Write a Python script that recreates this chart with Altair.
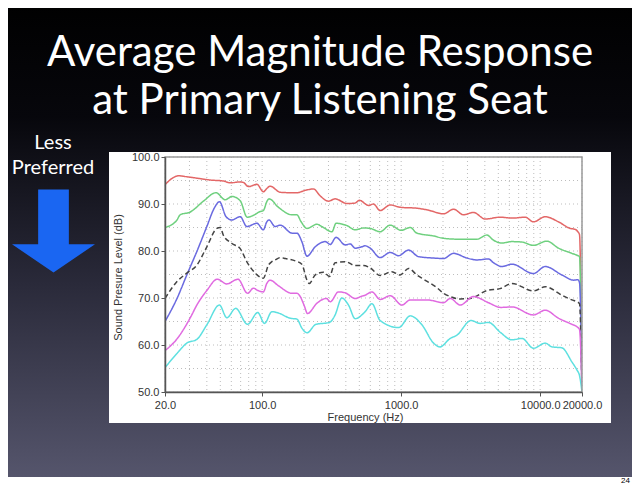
import altair as alt
import pandas as pd

# ---------------- data ----------------
red_f = [20, 22.9, 25, 28.7, 33.9, 42.3, 52.5, 58.9, 69.5, 73.1, 79.8, 91.7, 102, 108, 114, 135, 160, 178, 204, 234,
         262, 300, 335, 407, 467, 500, 582, 632, 706, 834, 984, 1298, 1566, 2018, 2383, 2807, 3313, 4027, 5163, 6265,
         7801, 8954, 10868, 13550, 16452, 17872, 18670, 19190, 20000]
red_db = [94.1, 95.6, 96.0, 95.8, 95.5, 95.1, 94.9, 94.5, 94.7, 94.6, 93.7, 94.2, 92.6, 93.3, 93.8, 92.5, 92.4, 92.4, 92.9, 93.2,
          91.7, 90.6, 91.1, 90.1, 90.2, 90.8, 89.7, 90.0, 88.6, 89.8, 89.3, 89.1, 88.7, 87.9, 88.9, 87.7, 88.2, 86.8, 87.2, 87.0,
          87.2, 86.2, 87.3, 86.2, 84.8, 84.6, 84.1, 83.5, 50.0]

green_f = [20, 24.4, 25.7, 30.4, 37.8, 46.5, 54.2, 60.6, 69.5, 78, 86.7, 96.8, 102, 108, 112, 131, 164, 178, 190, 210,
           248, 269, 318, 340, 407, 467, 536, 599, 706, 834, 1000, 1162, 1298, 1711, 2018, 2661, 3507, 4140, 4616, 5309,
           6265, 7396, 8954, 11172, 13550, 16915, 18375, 19190, 20000]
green_db = [85.0, 86.6, 87.7, 88.3, 90.6, 92.4, 90.9, 91.6, 90.7, 87.2, 87.6, 88.4, 88.6, 90.5, 91.1, 89.3, 87.7, 87.7, 86.3, 84.8,
            85.7, 85.2, 84.1, 85.9, 85.4, 84.5, 84.9, 84.8, 84.1, 85.5, 84.4, 85.0, 83.8, 83.2, 82.7, 82.5, 82.5, 83.4, 82.3, 81.7,
            82.0, 81.9, 81.2, 82.1, 80.6, 79.5, 79.1, 78.8, 50.0]

blue_f = [20, 24.4, 28.7, 33.9, 40, 45.2, 49.3, 55, 60.6, 69.5, 77.6, 91.7, 102, 108, 112, 124, 135, 164, 178, 193,
          210, 241, 284, 309, 340, 396, 430, 467, 522, 551, 599, 706, 834, 957, 1130, 1334, 1711, 2018, 2383, 2970,
          3507, 4247, 4616, 5309, 6265, 8954, 10868, 14330, 17383, 18670, 19190, 20000]
blue_db = [65.0, 69.9, 74.9, 79.9, 85.2, 89.1, 90.5, 87.3, 86.6, 87.3, 85.2, 85.9, 84.5, 86.2, 86.6, 85.2, 85.5, 83.8, 83.8, 82.0,
           78.9, 80.9, 82.0, 81.4, 82.9, 81.3, 81.5, 80.6, 80.9, 81.1, 80.6, 78.6, 79.7, 79.0, 80.2, 78.8, 78.5, 78.4, 79.5, 78.5,
           78.1, 78.3, 77.5, 76.7, 77.2, 75.2, 76.7, 74.9, 73.8, 73.9, 73.3, 50.0]

black_f = [20, 24.4, 28.7, 33.9, 40, 47.2, 50, 52.5, 60.6, 69.5, 78, 89.1, 102, 111, 117, 124, 135, 147, 173, 193,
           210, 218, 241, 276, 305, 335, 400, 467, 536, 599, 706, 857, 984, 1130, 1298, 1449, 1711, 1808, 2018, 2255,
           2661, 3139, 3412, 4140, 5163, 6265, 8954, 10868, 14330, 16915, 18375, 19190, 20000]
black_db = [69.9, 73.5, 75.3, 77.0, 80.9, 84.8, 85.0, 83.4, 81.6, 80.5, 77.6, 75.3, 74.2, 77.0, 77.7, 78.1, 78.6, 78.4, 77.9, 77.2,
            73.8, 73.1, 74.9, 75.5, 74.6, 77.5, 77.7, 76.9, 76.9, 76.4, 74.8, 75.6, 74.9, 76.3, 74.9, 74.0, 72.7, 72.2, 71.0, 70.3,
            69.8, 69.9, 70.3, 71.6, 72.0, 73.1, 71.5, 72.4, 70.6, 69.6, 69.2, 68.8, 50.0]

magenta_f = [20, 24.4, 30.4, 33.9, 40, 47.5, 55.7, 67, 78.5, 86.7, 91.7, 102, 108, 114, 131, 164, 178, 188, 200, 212,
             248, 290, 309, 354, 396, 467, 522, 551, 616, 706, 834, 1014, 1162, 1532, 2018, 2255, 2661, 3313, 4247, 5200,
             6265, 8954, 10868, 13550, 16915, 18375, 19190, 20000]
magenta_db = [58.8, 61.3, 65.8, 68.5, 71.6, 74.0, 73.0, 74.0, 71.0, 72.1, 71.7, 71.3, 73.1, 73.8, 72.6, 71.0, 71.0, 70.3, 68.5, 66.7,
              68.9, 69.9, 69.2, 71.3, 71.1, 69.9, 70.4, 70.6, 71.3, 69.7, 70.5, 68.5, 69.6, 69.6, 69.0, 69.9, 68.5, 70.3, 69.0, 68.0,
              68.1, 66.4, 67.4, 65.7, 64.4, 63.9, 63.3, 50.0]

cyan_f = [20, 24.4, 28.7, 33.9, 40, 49.3, 55.7, 64.5, 78.5, 93, 104, 117.5, 131, 159, 178, 193, 210, 244, 305, 335,
          374, 418, 467, 551, 616, 706, 960, 1162, 1410, 1711, 1900, 2255, 2519, 3180, 3707, 4247, 5163, 6265, 7396, 8954,
          10868, 12144, 14330, 16915, 18375, 19190, 20000]
cyan_db = [55.2, 58.2, 60.4, 61.2, 64.3, 68.5, 65.8, 67.8, 64.4, 66.9, 64.6, 67.1, 66.8, 65.7, 65.5, 63.6, 62.6, 64.4, 64.8, 66.4,
           70.0, 68.5, 65.6, 67.1, 68.8, 65.2, 63.7, 66.2, 64.3, 60.4, 59.6, 61.4, 62.1, 65.2, 64.6, 64.8, 62.7, 61.1, 61.4, 59.3,
           60.4, 59.6, 59.4, 56.4, 54.7, 53.5, 50.0]

series_names = ["red", "green", "blue", "black", "magenta", "cyan"]
series_colors = ["#e36767", "#6fd07f", "#6a6ae0", "#444444", "#e06ae0", "#5ee0e0"]
series_dash = [[1, 0], [1, 0], [1, 0], [5, 3], [1, 0], [1, 0]]

x_label_values = [20, 100, 1000, 10000, 20000]
x_grid_values = [20, 30, 40, 50, 60, 70, 80, 90, 100, 200, 300, 400, 500, 600, 700, 800, 900,
                 1000, 2000, 3000, 4000, 5000, 6000, 7000, 8000, 9000, 10000, 20000]
y_label_values = [50, 60, 70, 80, 90, 100]
y_grid_values = [50, 55, 60, 65, 70, 75, 80, 85, 90, 95, 100]

title_lines = ["Average Magnitude Response", "at Primary Listening Seat"]
side_lines = ["Less", "Preferred"]
page_number = "24"

# ---------------- build table ----------------
all_f = [red_f, green_f, blue_f, black_f, magenta_f, cyan_f]
all_db = [red_db, green_db, blue_db, black_db, magenta_db, cyan_db]
rows = []
for name, fs, ds in zip(series_names, all_f, all_db):
    assert len(fs) == len(ds), name
    for i, (f, d) in enumerate(zip(fs, ds)):
        rows.append({"series": name, "freq": f, "spl": d, "order": i})
df = pd.DataFrame(rows)

W, H = 417, 235
FONT = "Liberation Sans"

xscale = alt.Scale(type="log", domain=[20, 20000], nice=False)
yscale = alt.Scale(domain=[50, 100], nice=False)
one = pd.DataFrame({"k": [0]})

x_axis = alt.Axis(values=x_label_values, format=".1f", title="Frequency (Hz)",
                  grid=False, zindex=1, labelFlush=False, labelOverlap=False,
                  tickSize=4, labelPadding=3, titleX=200, titleY=25,
                  titleBaseline="middle")
y_axis = alt.Axis(values=y_label_values, format=".1f", title="Sound Presure Level (dB)",
                  grid=False, zindex=1, tickSize=4, labelPadding=2,
                  titleX=-47, titleY=120, titleBaseline="middle", titleAngle=-90)

# slide background
bg = alt.Chart(one).mark_rect(
    fill=alt.LinearGradient(
        gradient="linear", x1=0, x2=0, y1=0, y2=1,
        stops=[alt.GradientStop(color="#000000", offset=0),
               alt.GradientStop(color="#07070c", offset=0.25),
               alt.GradientStop(color="#2a2a3a", offset=0.6),
               alt.GradientStop(color="#55556c", offset=1)]),
).encode(x=alt.value(-170), x2=alt.value(480), y=alt.value(-160), y2=alt.value(320))

panel = alt.Chart(one).mark_rect(fill="#ffffff").encode(
    x=alt.value(-56), x2=alt.value(446), y=alt.value(-5), y2=alt.value(266))

vgrid = alt.Chart(pd.DataFrame({"freq": x_grid_values})).mark_rule(
    color="#bdbdbd", strokeDash=[1, 3], strokeWidth=1).encode(
    x=alt.X("freq:Q", scale=xscale, axis=x_axis))
hgrid = alt.Chart(pd.DataFrame({"spl": y_grid_values})).mark_rule(
    color="#bdbdbd", strokeDash=[1, 3], strokeWidth=1).encode(
    y=alt.Y("spl:Q", scale=yscale, axis=y_axis))

frame = alt.Chart(one).mark_rect(filled=False, stroke="#9a9a9a", strokeWidth=1.5).encode(
    x=alt.value(0), x2=alt.value(W), y=alt.value(0), y2=alt.value(H))

lines = alt.Chart(df).mark_line(strokeWidth=1.5, clip=True, interpolate="monotone").encode(
    x=alt.X("freq:Q", scale=xscale, axis=x_axis),
    y=alt.Y("spl:Q", scale=yscale, axis=y_axis),
    color=alt.Color("series:N", scale=alt.Scale(domain=series_names, range=series_colors), legend=None),
    strokeDash=alt.StrokeDash("series:N", scale=alt.Scale(domain=series_names, range=series_dash), legend=None),
    order="order:Q",
)

title1 = alt.Chart(one).mark_text(text=title_lines[0], font="Lato", fontSize=42, color="#ffffff",
                                  align="center", baseline="alphabetic").encode(
    x=alt.value(155), y=alt.value(-91))
title2 = alt.Chart(one).mark_text(text=title_lines[1], font="Lato", fontSize=42, color="#ffffff",
                                  align="center", baseline="alphabetic").encode(
    x=alt.value(155), y=alt.value(-43))
side1 = alt.Chart(one).mark_text(text=side_lines[0], font="Lato", fontSize=20, color="#ffffff",
                                 align="center", baseline="alphabetic").encode(
    x=alt.value(-112), y=alt.value(-8))
side2 = alt.Chart(one).mark_text(text=side_lines[1], font="Lato", fontSize=20, color="#ffffff",
                                 align="center", baseline="alphabetic").encode(
    x=alt.value(-112), y=alt.value(17))
arrow = alt.Chart(one).mark_point(
    shape="M-0.37,-1L0.37,-1L0.37,0.32L1,0.32L0,1L-1,0.32L-0.37,0.32Z",
    size=6889, filled=True, fill="#1a66f2", opacity=1, strokeWidth=0).encode(
    x=alt.value(-111.5), y=alt.value(74))
pnum = alt.Chart(one).mark_text(text=page_number, font=FONT, fontSize=8, color="#000000",
                                align="right", baseline="alphabetic").encode(
    x=alt.value(465), y=alt.value(326))

chart = alt.layer(bg, panel, vgrid, hgrid, lines, frame, title1, title2, side1, side2, arrow, pnum).properties(
    width=W, height=H,
    autosize=alt.AutoSizeParams(type="none"),
    padding={"left": 157, "top": 149, "right": 50, "bottom": 92},
    background="#ffffff",
).configure_view(strokeWidth=0).configure_axis(
    domainColor="#555555", domainWidth=1.5, tickColor="#555555",
    labelFont=FONT, labelFontSize=11, labelColor="#333333",
    titleFont=FONT, titleFontSize=11, titleFontWeight="normal", titleColor="#333333",
)

chart.save("out.html", embed_options={"renderer": "svg", "actions": False})
